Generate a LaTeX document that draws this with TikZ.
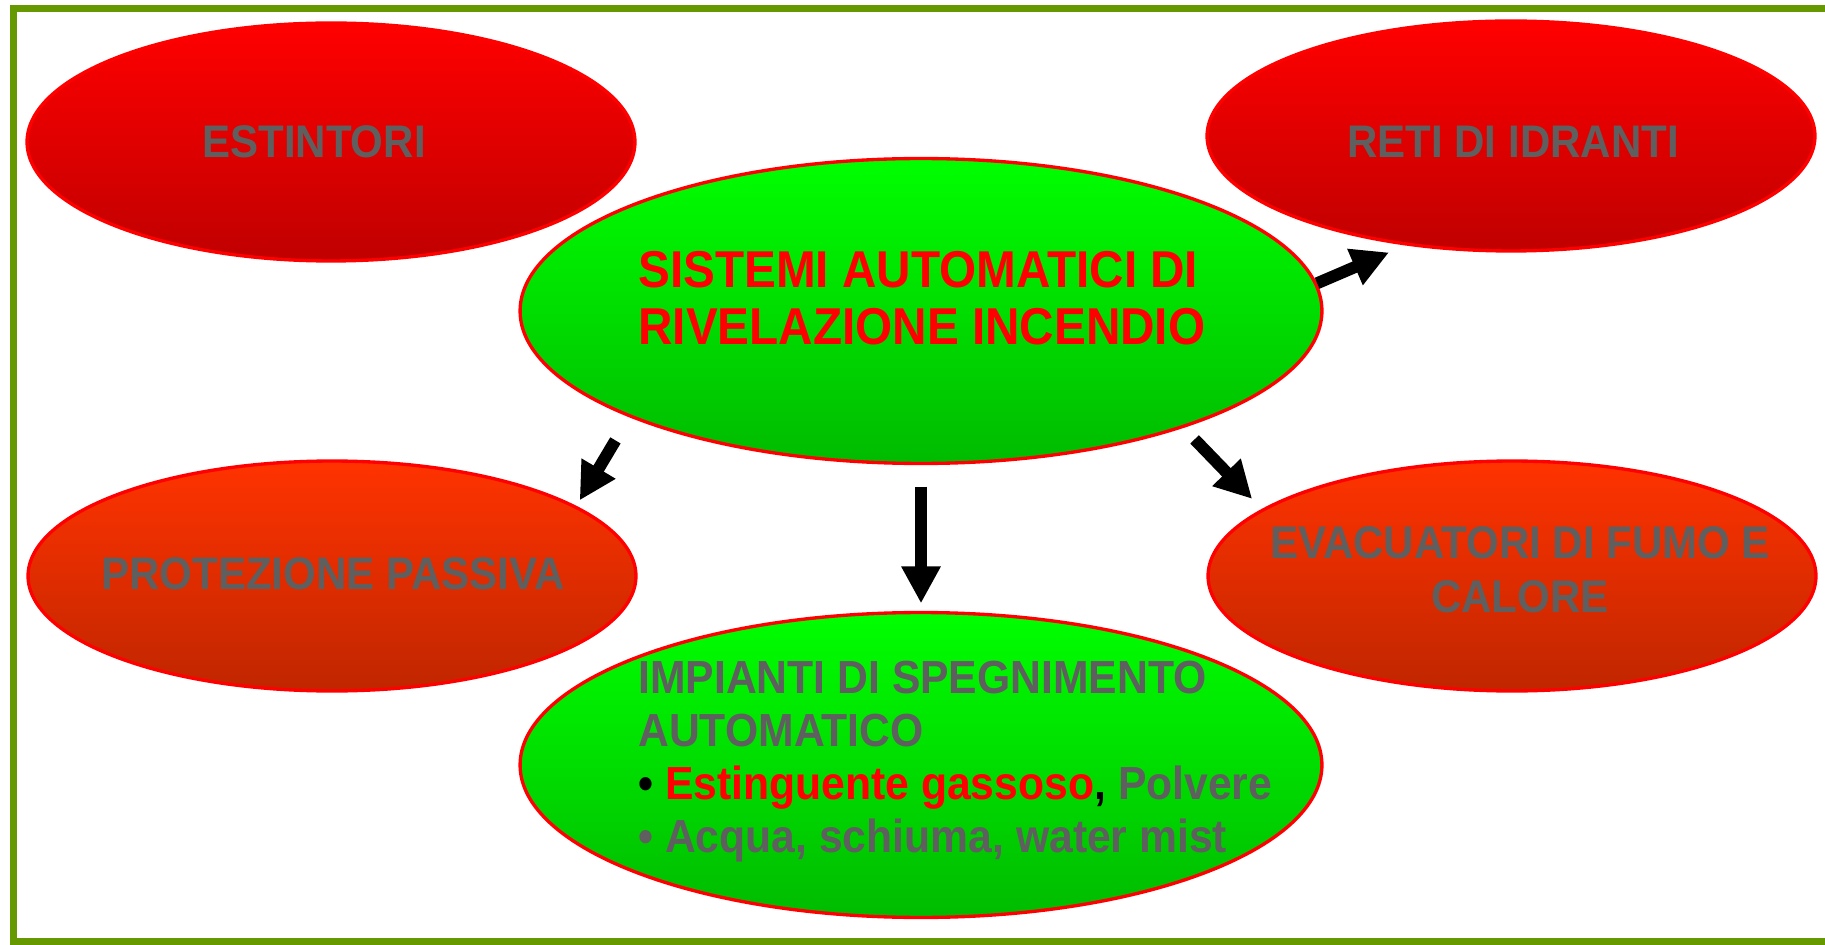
\documentclass[tikz,border=0pt]{standalone}
\usepackage{fontspec}
\newfontfamily\stretta{Liberation Sans}[FakeStretch=0.92]
\usetikzlibrary{shapes.geometric,arrows.meta}
\definecolor{grigio}{RGB}{95,95,95}
\definecolor{bordo}{RGB}{102,153,0}
\definecolor{rossoA}{RGB}{255,0,0}
\definecolor{rossoB}{RGB}{192,0,0}
\definecolor{aranA}{RGB}{255,51,0}
\definecolor{aranB}{RGB}{192,38,0}
\definecolor{verdeA}{RGB}{0,255,0}
\definecolor{verdeB}{RGB}{0,187,0}
\tikzset{
	bolla/.style={shape=ellipse, draw=red, line width=1.9pt, inner sep=0pt, shading=axis},
	rossa/.style={bolla, top color=rossoA, bottom color=rossoB, minimum width=12.16cm},
	arancio/.style={bolla, top color=aranA, bottom color=aranB, minimum width=12.16cm, minimum height=4.6cm},
	verde/.style={bolla, top color=verdeA, bottom color=verdeB, minimum width=16.04cm, minimum height=6.1cm},
	testo/.style={text=grigio, inner sep=0pt, font=\stretta\bfseries\fontsize{26}{29.6}\selectfont},
	freccia/.style={line width=0.24cm, -{Triangle[width=0.74cm, length=0.74cm]}}
}

\begin{document}
\begin{tikzpicture}[x=0.02cm, y=-0.02cm]
			\useasboundingbox (0,0) rectangle (1825,945);
			\draw[color=bordo, line width=0.14cm] (13.5,8.5) rectangle (1860,941);
			\node[rossa, minimum height=4.76cm](N1) at (331,142){};
			\node[rossa, minimum height=4.6cm](N2) at (1511,136){};
			\node[verde](N3) at (921,311){};
			\node[arancio](N4) at (332,576){};
			\node[arancio](N5) at (1512,576){};
			\node[verde](N6) at (921,765){};
			\node[testo](T1) at (314,142){ESTINTORI};
			\node[testo](T2) at (1513,142){RETI DI IDRANTI};
			\node[testo, text=red, anchor=west, align=left, font=\stretta\bfseries\fontsize{29.5}{32.4}\selectfont](T3) at (638,298){SISTEMI AUTOMATICI DI\\RIVELAZIONE INCENDIO};
			\node[testo](T4) at (333,574){PROTEZIONE PASSIVA};
			\node[testo, align=center, font=\stretta\bfseries\fontsize{26}{30.7}\selectfont](T5) at (1520,570){EVACUATORI DI FUMO E\\CALORE};
			\node[testo, anchor=west, align=left, font=\stretta\bfseries\fontsize{26.4}{30.2}\selectfont](T6) at (638,762){IMPIANTI DI SPEGNIMENTO\\AUTOMATICO\\\textcolor{black}{•} \textcolor{red}{Estinguente gassoso}\textcolor{black}{,} Polvere\\• Acqua, schiuma, water mist};
			\draw[freccia, shorten >=0.356cm] (N3.4) -- (N2.226);
			\draw[freccia, shorten <=0.54cm, shorten >=0.13cm] (N3.200) -- (N4.16.5);
			\draw[freccia, shorten <=0.43cm, shorten >=0.15cm] (N3.south) -- (N6.north);
			\draw[freccia, shorten <=0.32cm, shorten >=0.28cm] (N3.-24) -- (N5.165);
		\end{tikzpicture}
\end{document}
